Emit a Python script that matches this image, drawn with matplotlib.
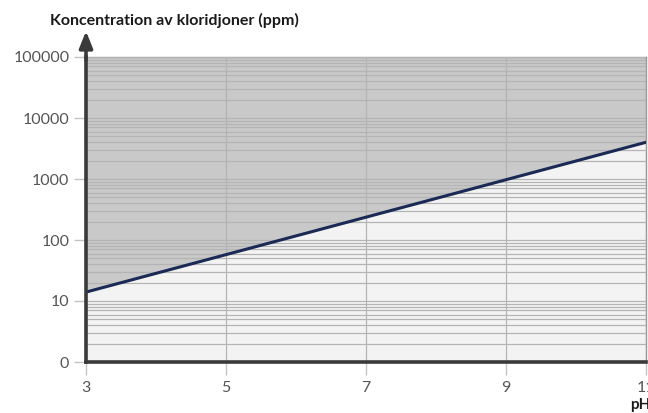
import matplotlib.pyplot as plt
import matplotlib.ticker as ticker
import numpy as np

# data
ph = [3, 11]
chloride_ppm = [14, 4000]
x_ticks = [3, 5, 7, 9, 11]
y_ticks = [1, 10, 100, 1000, 10000, 100000]
y_tick_labels = ['0', '10', '100', '1000', '10000', '100000']

plt.rcParams['font.family'] = ['Lato', 'DejaVu Sans']

fig = plt.figure(figsize=(6.48, 4.13), dpi=100)
ax = fig.add_axes([86 / 648, 1 - 362 / 413, 560 / 648, 305 / 413])

ax.set_yscale('log')
ax.set_xlim(3, 11)
ax.set_ylim(1, 100000)

ax.fill_between(ph, chloride_ppm, 100000, color='#c9c9c9', lw=0, zorder=0)
ax.fill_between(ph, 1, chloride_ppm, color='#f3f3f3', lw=0, zorder=0)

ax.set_xticks(x_ticks)
ax.set_xticklabels([str(t) for t in x_ticks])
ax.set_yticks(y_ticks)
ax.set_yticklabels(y_tick_labels)
ax.yaxis.set_minor_locator(ticker.LogLocator(base=10, subs=np.arange(2, 10)))
ax.yaxis.set_minor_formatter(ticker.NullFormatter())
ax.tick_params(axis='y', which='minor', length=0)
ax.tick_params(axis='both', which='major', length=9, width=1, color='#c4c4c4',
               labelcolor='#555555', labelsize=11.5, pad=3)
ax.tick_params(axis='x', which='major', pad=5)

ax.grid(True, which='major', axis='x', color='#b4b4b4', lw=0.9, zorder=1)
ax.grid(True, which='both', axis='y', color='#b4b4b4', lw=0.9, zorder=1)
ax.set_axisbelow(False)

ax.plot(ph, chloride_ppm, color='#1b2a55', lw=2.2, zorder=3)

for side in ['top', 'right']:
    ax.spines[side].set_color('#9a9a9a')
    ax.spines[side].set_linewidth(1)
for side in ['left', 'bottom']:
    ax.spines[side].set_color('#3a3a3a')
    ax.spines[side].set_linewidth(2.6)
    ax.spines[side].set_zorder(4)

# arrow on top of the y axis
ax.annotate('', xy=(0, 1.085), xytext=(0, 0.99), xycoords='axes fraction',
            arrowprops=dict(arrowstyle='-|>,head_width=0.4,head_length=1.0',
                            color='#3a3a3a', lw=2.6, shrinkA=0, shrinkB=0),
            annotation_clip=False)

fig.text(50 / 648, 1 - 20 / 413, 'Koncentration av kloridjoner (ppm)',
         fontsize=11.5, fontweight='bold', color='#1a1a1a', va='center', ha='left')
fig.text(630 / 648, 1 - 405 / 413, 'pH', fontsize=11, fontweight='bold',
         color='#1a1a1a', va='center', ha='left')

fig.savefig('out.png', dpi=100)
